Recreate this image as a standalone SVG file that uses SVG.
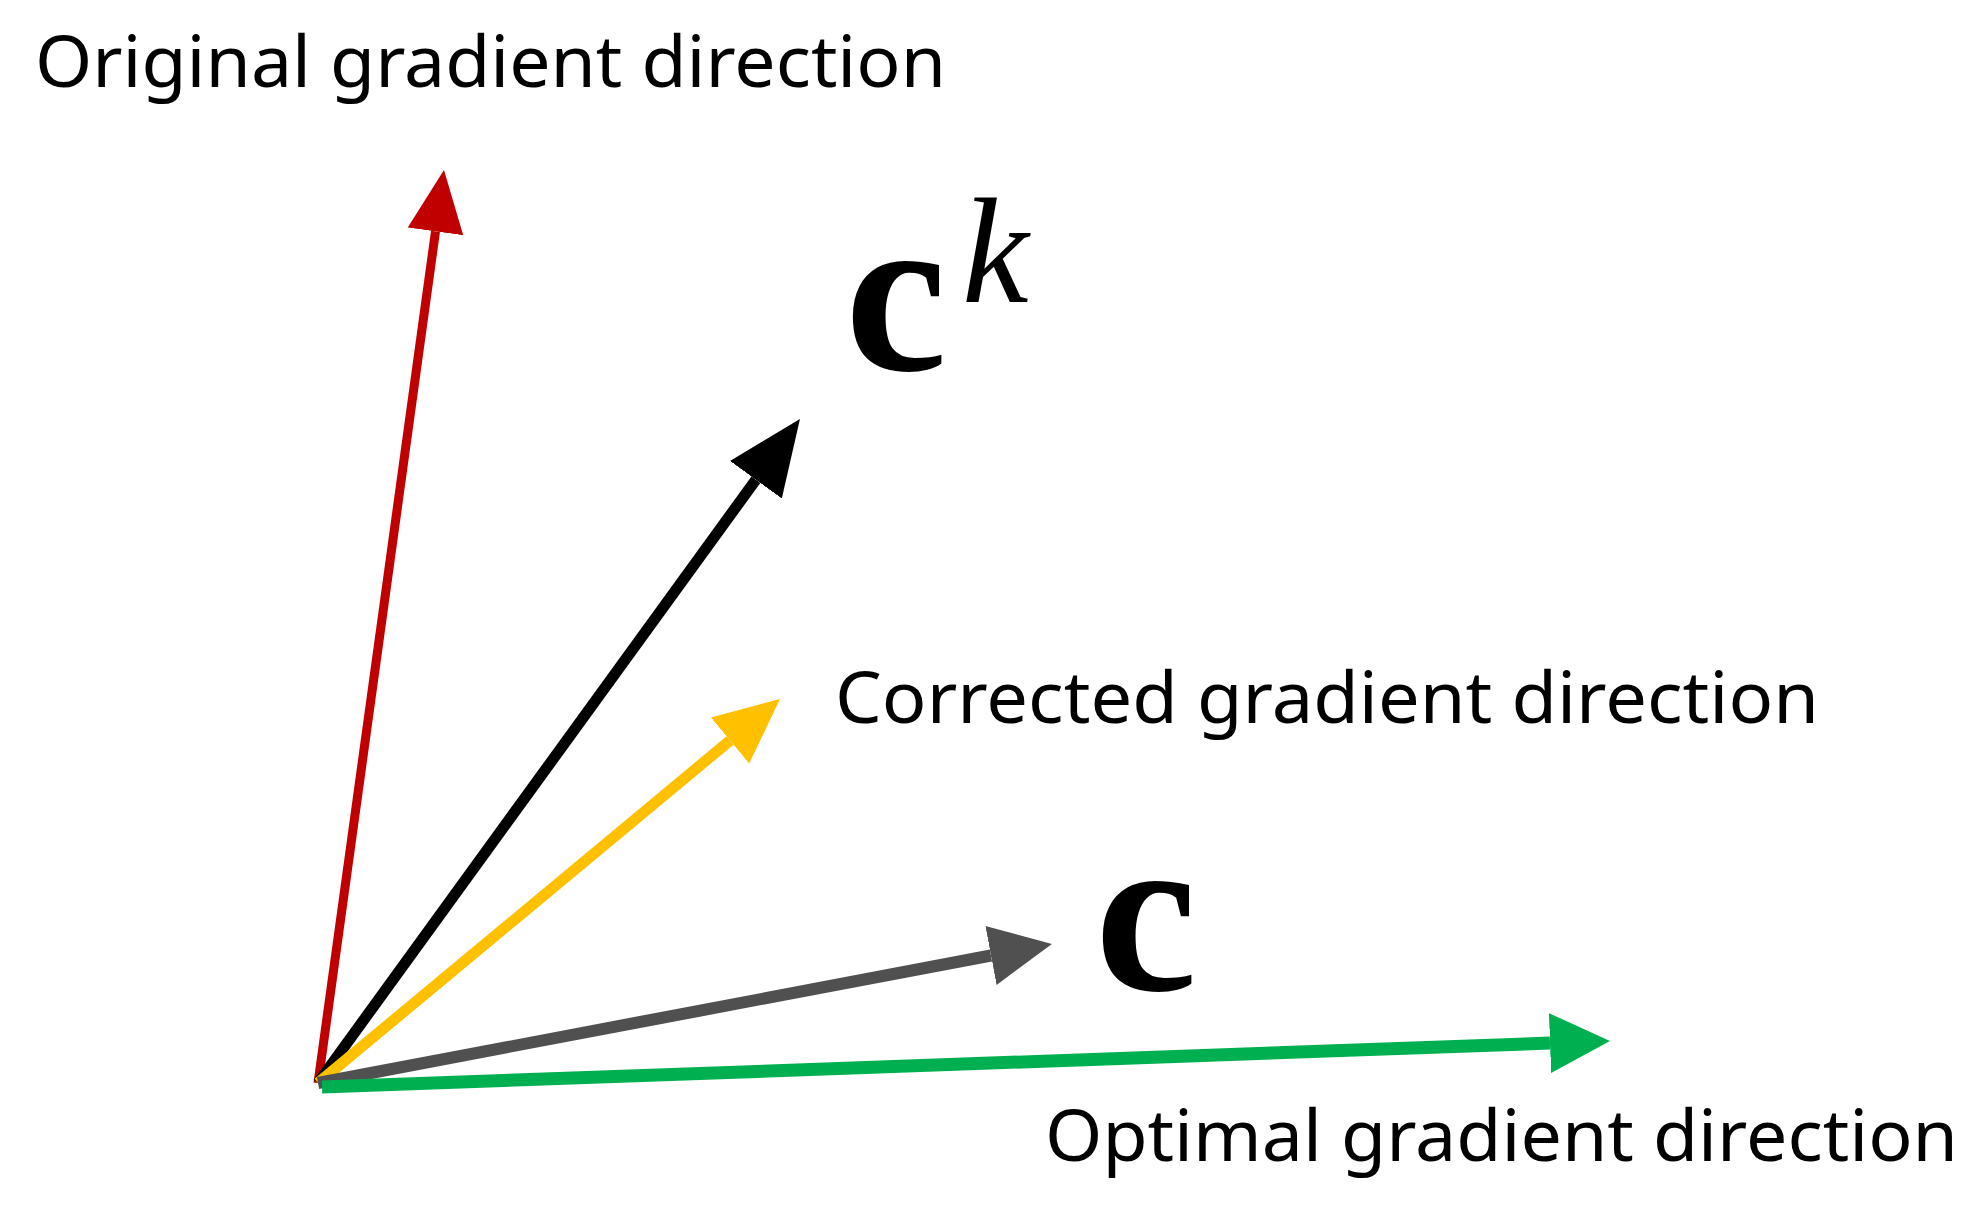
<svg xmlns="http://www.w3.org/2000/svg" width="1968" height="1211" viewBox="0 0 1968 1211">
<style>
.lbl{font-family:"Noto Sans","DejaVu Sans",sans-serif;font-size:72px;fill:#000}
.math{font-family:"Liberation Serif","DejaVu Serif",serif;fill:#000}
</style>
<defs>
<marker id="mr" markerUnits="userSpaceOnUse" viewBox="0 -30 62 60" markerWidth="62" markerHeight="60" refX="0" refY="0" orient="auto"><path d="M0,-28 L62,0 L0,28 z" fill="#c00000"/></marker>
<marker id="mk" markerUnits="userSpaceOnUse" viewBox="0 -34 75 68" markerWidth="75" markerHeight="68" refX="0" refY="0" orient="auto"><path d="M0,-32 L75,0 L0,32 z" fill="#000"/></marker>
<marker id="my" markerUnits="userSpaceOnUse" viewBox="0 -32 65 64" markerWidth="65" markerHeight="64" refX="0" refY="0" orient="auto"><path d="M0,-30 L65,0 L0,30 z" fill="#ffc000"/></marker>
<marker id="mg" markerUnits="userSpaceOnUse" viewBox="0 -32 62 64" markerWidth="62" markerHeight="64" refX="0" refY="0" orient="auto"><path d="M0,-30 L62,0 L0,30 z" fill="#505050"/></marker>
<marker id="mn" markerUnits="userSpaceOnUse" viewBox="0 -32 60 64" markerWidth="60" markerHeight="64" refX="0" refY="0" orient="auto"><path d="M0,-30 L60,0 L0,30 z" fill="#00b050"/></marker>
</defs>
<rect width="1968" height="1211" fill="#fff"/>
<g id="connectors" fill="none">
<path d="M318,1083 L435.5,231.4" stroke="#c00000" stroke-width="9" marker-end="url(#mr)"/>
<path d="M318,1083 L755.9,479.7" stroke="#000" stroke-width="11" marker-end="url(#mk)"/>
<path d="M318,1083 L730,740.5" stroke="#ffc000" stroke-width="11" marker-end="url(#my)"/>
<path d="M318,1083 L991,955.5" stroke="#505050" stroke-width="12" marker-end="url(#mg)"/>
<path d="M322,1087 L1550,1043.1" stroke="#00b050" stroke-width="13" marker-end="url(#mn)"/>
</g>
<g id="label-original"><text class="lbl" x="35" y="87" textLength="911" lengthAdjust="spacingAndGlyphs">Original gradient direction</text></g>
<g id="label-corrected"><text class="lbl" x="835" y="723" textLength="984" lengthAdjust="spacingAndGlyphs">Corrected gradient direction</text></g>
<g id="label-optimal"><text class="lbl" x="1045" y="1161" textLength="913" lengthAdjust="spacingAndGlyphs">Optimal gradient direction</text></g>
<g id="label-ck"><text class="math" x="845" y="370" font-size="230" font-weight="bold">c</text><text class="math" x="962" y="302" font-size="150" font-style="italic">k</text></g>
<g id="label-c"><text class="math" x="1095" y="990" font-size="230" font-weight="bold">c</text></g>
</svg>
